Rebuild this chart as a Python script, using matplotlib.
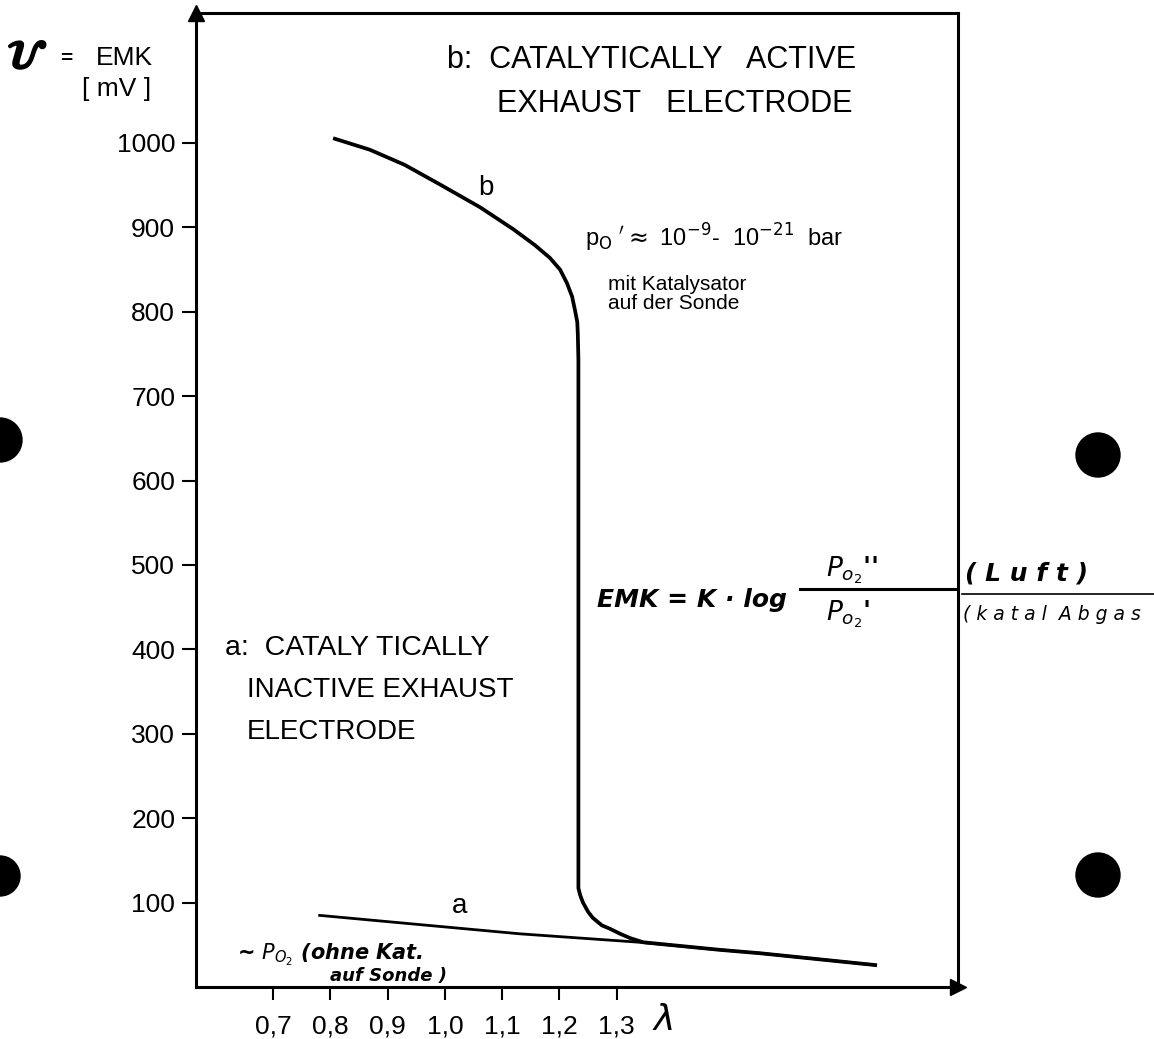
import matplotlib
matplotlib.use("Agg")
import matplotlib.pyplot as plt
import matplotlib.patheffects as pe
from matplotlib.lines import Line2D
from matplotlib.patches import Ellipse

plt.rcParams['font.family'] = ['Liberation Sans Narrow', 'Liberation Sans', 'DejaVu Sans']

# ---- data (in the axis units of the drawn scale) ----
lam_ticks = [0.7, 0.8, 0.9, 1.0, 1.1, 1.2, 1.3]
lam_tick_labels = ["0,7", "0,8", "0,9", "1,0", "1,1", "1,2", "1,3"]
emk_ticks = [100, 200, 300, 400, 500, 600, 700, 800, 900, 1000]

# curve a: catalytically inactive exhaust electrode
lam_a = [0.779, 1.131, 1.340, 1.480, 1.550, 1.751]
emk_a = [85, 63, 53, 44, 40, 26]

# curve b: catalytically active exhaust electrode
lam_b = [0.808, 0.869, 0.930, 0.991, 1.061, 1.119, 1.157, 1.183, 1.201, 1.213,
         1.222, 1.227, 1.231, 1.232, 1.233, 1.233, 1.236, 1.241, 1.250, 1.258,
         1.274, 1.288, 1.306, 1.323, 1.346, 1.480, 1.550, 1.751]
emk_b = [1005, 992, 974, 951, 924, 898, 879, 864, 850, 834,
         818, 802, 788, 773, 743, 117, 109, 100, 89, 82,
         73, 69, 63, 58, 53, 44, 40, 26]

W, H = 1154, 1039
fig = plt.figure(figsize=(W / 100, H / 100), dpi=100)
fig.patch.set_facecolor("white")

def fx(px):
    return px / W

def fy(py):
    return 1 - py / H

ax_l, ax_r, ax_b, ax_t = 196, 958, 987, 13
ax = fig.add_axes([fx(ax_l), fy(ax_b), fx(ax_r) - fx(ax_l), fy(ax_t) - fy(ax_b)])

ax.set_xlim(0.5656, 1.8955)
ax.set_ylim(0, 1154)

for s in ax.spines.values():
    s.set_linewidth(2.2)
    s.set_color("black")

ax.plot(lam_a, emk_a, color="black", lw=2.0, solid_capstyle="butt")
ax.plot(lam_b, emk_b, color="black", lw=2.7, solid_joinstyle="round")

ax.set_xticks(lam_ticks)
ax.set_xticklabels(lam_tick_labels)
ax.set_yticks(emk_ticks)
ax.set_yticklabels([str(v) for v in emk_ticks])
ax.tick_params(axis="x", direction="out", length=9, width=1.5, pad=11, labelsize=19)
ax.tick_params(axis="y", direction="out", length=10, width=1.5, pad=5, labelsize=19)

# axis arrows
ax.plot(0, 1, marker="^", color="black", markersize=11, transform=ax.transAxes, clip_on=False)
ax.plot(1, 0, marker=">", color="black", markersize=11, transform=ax.transAxes, clip_on=False)

# axis titles
fig.text(fx(8), fy(58), r"$\mathcal{U}$", fontsize=28, va="center", ha="left",
         path_effects=[pe.withStroke(linewidth=2.2, foreground="black")])
fig.text(fx(60), fy(58), "=", fontsize=15, fontweight="bold", va="center", ha="left")
fig.text(fx(96), fy(58), "EMK", fontsize=19, va="center", ha="left")
fig.text(fx(82), fy(89), "[ mV ]", fontsize=19, va="center", ha="left")
fig.text(fx(652), fy(1020), r"$\lambda$", fontsize=26, va="center", ha="left")

# descriptive texts
fig.text(fx(447), fy(60), "b:  CATALYTICALLY   ACTIVE", fontsize=22, va="center", ha="left")
fig.text(fx(497), fy(104), "EXHAUST   ELECTRODE", fontsize=22, va="center", ha="left")

fig.text(fx(225), fy(648), "a:  CATALY TICALLY", fontsize=20.5, va="center", ha="left")
fig.text(fx(247), fy(690), "INACTIVE EXHAUST", fontsize=20, va="center", ha="left")
fig.text(fx(247), fy(732), "ELECTRODE", fontsize=20, va="center", ha="left")

fig.text(fx(478), fy(188), "b", fontsize=20, va="center", ha="left")
fig.text(fx(452), fy(906), "a", fontsize=20, va="center", ha="left")

fig.text(fx(585), fy(238), r"p$_{\mathrm{O}}$ $'$$\approx$ 10$^{-9}$-  10$^{-21}$  bar",
         fontsize=17, va="center", ha="left", family="Liberation Sans")
fig.text(fx(608), fy(294), "mit Katalysator\nauf der Sonde", fontsize=15, va="center", ha="left",
         family="Liberation Sans", linespacing=1.0)

# handwritten annotations
hw = dict(fontstyle="italic", fontweight="bold", family="DejaVu Sans", color="black")
fig.text(fx(237), fy(955), r"~ $P_{O_2}$ (ohne Kat.", fontsize=15, va="center", ha="left", **hw)
fig.text(fx(330), fy(976), "auf Sonde )", fontsize=13, va="center", ha="left", **hw)

fig.text(fx(597), fy(600), "EMK = K · log", fontsize=18, va="center", ha="left", **hw)
fig.text(fx(826), fy(570), r"$P_{o_2}$''", fontsize=19, va="center", ha="left", **hw)
fig.text(fx(826), fy(614), r"$P_{o_2}$'", fontsize=19, va="center", ha="left", **hw)
fig.text(fx(965), fy(574), "( L u f t )", fontsize=18, va="center", ha="left", **hw)
fig.text(fx(963), fy(614), "( k a t a l  A b g a s", fontsize=13.5, va="center", ha="left",
         fontstyle="italic", family="DejaVu Sans")
fig.add_artist(Line2D([fx(800), fx(957)], [fy(589), fy(589)], color="black", lw=2.2))
fig.add_artist(Line2D([fx(962), fx(1154)], [fy(594), fy(594)], color="black", lw=1.2))

# binder holes of the scanned page
for cx, cy, r in [(0, 440, 22), (0, 876, 20), (1098, 455, 22), (1098, 875, 22)]:
    fig.add_artist(Ellipse((fx(cx), fy(cy)), 2 * r / W, 2 * r / H,
                           transform=fig.transFigure, color="black", zorder=5))

fig.savefig("out.png", dpi=100, facecolor="white")
